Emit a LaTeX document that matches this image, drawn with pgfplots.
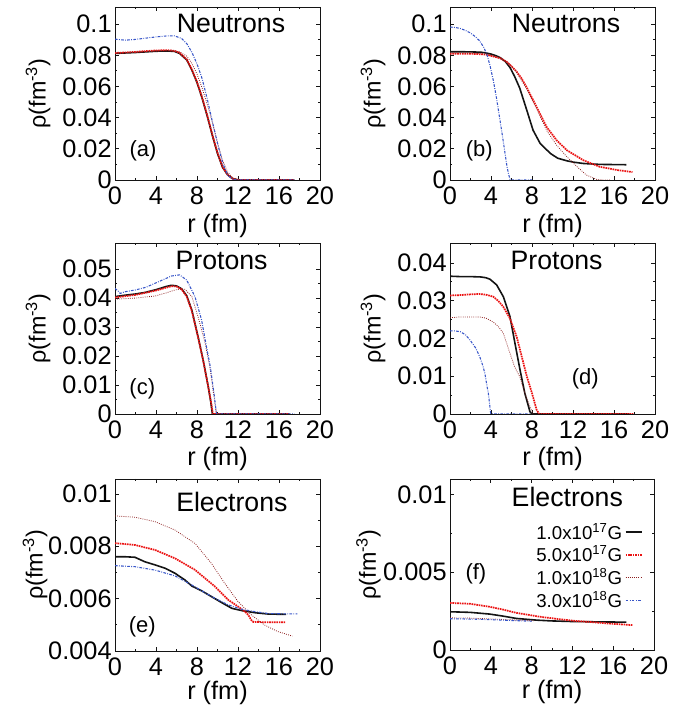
\documentclass[border=0pt]{standalone}
\usepackage{pgfplots}
\pgfplotsset{compat=1.18}
\usepackage{fontspec}
\setmainfont{Liberation Sans}
\definecolor{cblack}{RGB}{20,20,20}
\definecolor{cred}{RGB}{235,20,20}
\definecolor{cdred}{RGB}{140,30,30}
\definecolor{cblue}{RGB}{55,85,200}
\newcommand\tickf{\fontsize{19}{21}\selectfont}
\newcommand\titf{\fontsize{20}{22}\selectfont}
\newcommand\xlf{\fontsize{19}{21}\selectfont}
\newcommand\ylf{\fontsize{17.5}{20}\selectfont}
\newcommand\letf{\fontsize{16.5}{18}\selectfont}
\newcommand\legf{\fontsize{14}{16}\selectfont}
\pgfplotsset{
 panel/.style={
  scale only axis, width=153.75pt,
  xmin=0, xmax=20, xtick={0,4,8,12,16,20}, xticklabels={0,4,8,12,16,20},
  minor x tick num=1, minor y tick num=1,
  tick align=inside, major tick length=3pt, minor tick length=1.8pt,
  axis line style={line width=0.7pt, cblack},
  every tick/.style={line width=0.6pt, cblack},
  tick label style={font=\tickf},
  xticklabel style={yshift=-1.5pt},
  yticklabel style={xshift=1pt},
  xlabel={r (fm)}, ylabel={ρ(fm\textsuperscript{-3})},
  xlabel style={font=\xlf, at={(axis description cs:0.5,-0.265)}, anchor=center},
  ylabel style={font=\ylf, at={(axis description cs:-0.375,0.5)}, anchor=center},
  scaled y ticks=false,
 },
 s1/.style={cblack, line width=1.2pt},
 s2/.style={cred, line width=1.3pt, dash pattern=on 1.2pt off 0.6pt},
 s3/.style={cdred, line width=0.6pt, dash pattern=on 0.6pt off 1pt},
 s4/.style={cblue, line width=0.8pt, dash pattern=on 2pt off 1pt on 0.6pt off 1pt},
}
\begin{document}
\begin{tikzpicture}
\path[use as bounding box] (0pt,0pt) rectangle (515.25pt,529.5pt);
% (a)
\begin{axis}[panel, at={(86.25pt,394.5pt)}, anchor=south west, height=129.75pt,
  ymin=0, ymax=0.111, ytick={0,0.02,0.04,0.06,0.08,0.1}, yticklabels={0,0.02,0.04,0.06,0.08,0.1}]
\addplot[s1] coordinates {(0,0.0812)(1,0.0815)(2,0.0818)(3,0.0822)(4,0.0826)(5,0.0828)(5.8,0.0825)(6.3,0.0812)(7.0,0.0770)(7.5,0.0705)(8.0,0.0625)(8.5,0.0525)(9.0,0.0410)(9.5,0.0285)(10.0,0.0170)(10.5,0.0080)(11.0,0.0032)(11.5,0.0008)(12.0,0.0001)(12.5,0)(17.5,0)};
\addplot[s2] coordinates {(0,0.0815)(1,0.0818)(2,0.0822)(3,0.0827)(4,0.0831)(5,0.0833)(5.8,0.0829)(6.3,0.0816)(7.0,0.0774)(7.5,0.0710)(8.0,0.0630)(8.5,0.0530)(9.0,0.0415)(9.5,0.0290)(10.0,0.0175)(10.5,0.0083)(11.0,0.0033)(11.5,0.0008)(12.0,0.0001)(12.5,0)(17.5,0)};
\addplot[s3] coordinates {(0,0.0815)(2,0.0820)(4,0.0828)(5.5,0.0832)(6.3,0.0822)(7.0,0.0795)(7.5,0.0748)(8.0,0.0680)(8.5,0.0590)(9.0,0.0485)(9.5,0.0370)(10.0,0.0240)(10.5,0.0125)(11.0,0.0050)(11.5,0.0012)(12.0,0.0001)(12.5,0)(17.5,0)};
\addplot[s4] coordinates {(0,0.0904)(0.5,0.0900)(1,0.0897)(2,0.0902)(3,0.0910)(4,0.0918)(5,0.0924)(5.8,0.0925)(6.5,0.0908)(7.0,0.0875)(7.5,0.0820)(8.0,0.0745)(8.5,0.0650)(9.0,0.0520)(9.5,0.0375)(10.0,0.0235)(10.5,0.0110)(11.0,0.0030)(11.5,0.0003)(12,0)(17.5,0)};
\node[font=\titf] at (rel axis cs:0.566,0.907) {Neutrons};
\node[font=\letf] at (rel axis cs:0.137,0.168) {(a)};
\end{axis}
% (b)
\begin{axis}[panel, at={(337.5pt,394.5pt)}, anchor=south west, height=129.75pt,
  ymin=0, ymax=0.111, ytick={0,0.02,0.04,0.06,0.08,0.1}, yticklabels={0,0.02,0.04,0.06,0.08,0.1}]
\addplot[s1] coordinates {(0,0.0823)(1,0.0823)(2,0.0822)(3,0.0820)(3.5,0.0815)(4,0.0808)(4.5,0.0797)(4.9,0.0785)(5.4,0.0760)(5.85,0.0722)(6.3,0.0665)(6.8,0.0590)(7.5,0.0446)(8.1,0.0320)(8.8,0.0234)(9.8,0.0170)(10.5,0.0140)(11.4,0.0123)(12,0.0115)(13,0.0106)(14.6,0.0100)(17.2,0.0098)};
\addplot[s2] coordinates {(0,0.0810)(2,0.0810)(3.5,0.0805)(4.9,0.0781)(5.5,0.0760)(6.0,0.0730)(6.5,0.0695)(7.0,0.0650)(7.48,0.0594)(8.46,0.0467)(9.43,0.0340)(10.4,0.0255)(11.4,0.0191)(13,0.0127)(14.6,0.0085)(16.3,0.0064)(17.8,0.0051)};
\addplot[s3] coordinates {(0,0.0815)(2,0.0815)(3.5,0.0808)(4.9,0.0783)(5.8,0.0745)(6.5,0.0690)(7.48,0.0584)(8.46,0.0456)(9.43,0.0318)(10.4,0.0223)(11.4,0.0149)(12.4,0.0085)(13.3,0.0032)(14.3,0.0004)(15,0)(15.6,0)};
\addplot[s4] coordinates {(0,0.0981)(0.5,0.0979)(1,0.0972)(1.5,0.0960)(2,0.0943)(2.5,0.0918)(2.9,0.0892)(3.3,0.0850)(3.6,0.0805)(3.9,0.0735)(4.23,0.0637)(4.55,0.0520)(4.88,0.0382)(5.1,0.0290)(5.37,0.0170)(5.55,0.0090)(5.7,0.0042)(5.85,0.0005)(6.0,0)(8,0)};
\node[font=\titf] at (rel axis cs:0.566,0.907) {Neutrons};
\node[font=\letf] at (rel axis cs:0.143,0.168) {(b)};
\end{axis}
% (c)
\begin{axis}[panel, at={(86.25pt,219pt)}, anchor=south west, height=128.25pt,
  ymin=0, ymax=0.059, ytick={0,0.01,0.02,0.03,0.04,0.05}, yticklabels={0,0.01,0.02,0.03,0.04,0.05}]
\addplot[s1] coordinates {(0,0.0405)(1,0.0410)(2,0.0414)(3,0.0420)(4,0.0429)(5,0.0440)(5.5,0.0444)(6.0,0.0442)(6.5,0.0432)(7.0,0.0408)(7.5,0.0358)(8.1,0.0267)(8.6,0.0186)(9.1,0.0094)(9.35,0.0040)(9.5,0)(17,0)};
\addplot[s2] coordinates {(0,0.0402)(2,0.0411)(4,0.0426)(5.5,0.0441)(6.0,0.0440)(6.5,0.0430)(7.0,0.0405)(7.5,0.0355)(8.1,0.0265)(8.6,0.0185)(9.1,0.0093)(9.4,0.0035)(9.55,0)(17,0)};
\addplot[s3] coordinates {(0,0.0396)(2,0.0400)(3.9,0.0407)(5,0.0418)(5.85,0.0428)(6.5,0.0431)(6.83,0.0430)(7.5,0.0405)(8.1,0.0336)(8.8,0.0244)(9.3,0.0152)(9.7,0.0048)(9.9,0)(17,0)};
\addplot[s4] coordinates {(0,0.0433)(0.3,0.0425)(0.5,0.0416)(1,0.0422)(2,0.0428)(3,0.0437)(3.9,0.0451)(5,0.0468)(5.5,0.0476)(6.3,0.0480)(7.0,0.0462)(7.8,0.0405)(8.45,0.0324)(8.8,0.0255)(9.3,0.0163)(9.7,0.0060)(9.9,0)(17.5,0)};
\node[font=\titf] at (rel axis cs:0.52,0.90) {Protons};
\node[font=\letf] at (rel axis cs:0.133,0.146) {(c)};
\end{axis}
% (d)
\begin{axis}[panel, at={(337.5pt,219pt)}, anchor=south west, height=128.25pt,
  ymin=0, ymax=0.0453, ytick={0,0.01,0.02,0.03,0.04}, yticklabels={0,0.01,0.02,0.03,0.04}]
\addplot[s1] coordinates {(0,0.0365)(1,0.0364)(2,0.0364)(3,0.0363)(3.5,0.0361)(3.9,0.0357)(4.55,0.0342)(5.2,0.0311)(5.85,0.0258)(6.34,0.0187)(6.83,0.0117)(7.3,0.0055)(7.8,0.0006)(8.0,0)(17.5,0)};
\addplot[s2] coordinates {(0,0.0314)(1,0.0315)(2,0.0317)(2.9,0.0318)(3.5,0.0316)(4.2,0.0311)(4.7,0.0300)(5.2,0.0284)(5.85,0.0253)(6.5,0.0205)(7.0,0.0152)(7.5,0.0099)(8.0,0.0055)(8.45,0.0011)(8.7,0)(17.9,0)};
\addplot[s3] coordinates {(0,0.0255)(1,0.0257)(2.9,0.0257)(3.5,0.0254)(4.2,0.0244)(4.7,0.0232)(5.2,0.0214)(5.85,0.0161)(6.3,0.0125)(6.8,0.0099)(7.3,0.0055)(7.8,0.0020)(8.1,0)(17,0)};
\addplot[s4] coordinates {(0,0.0220)(0.5,0.0220)(1,0.0218)(1.5,0.0210)(1.95,0.0196)(2.5,0.0175)(2.9,0.0152)(3.2,0.0128)(3.4,0.0108)(3.6,0.0075)(3.74,0.0055)(3.87,0.0025)(3.97,0.0002)(4.05,0)(7.8,0)};
\node[font=\titf] at (rel axis cs:0.52,0.90) {Protons};
\node[font=\letf] at (rel axis cs:0.66,0.205) {(d)};
\end{axis}
% (e)
\begin{axis}[panel, at={(86.25pt,41.25pt)}, anchor=south west, height=129pt,
  ymin=0.004, ymax=0.01057, ytick={0.004,0.006,0.008,0.01}, yticklabels={0.004,0.006,0.008,0.01},
  ylabel style={at={(axis description cs:-0.39,0.5)}},
  xlabel style={at={(axis description cs:0.5,-0.245)}}]
\addplot[s1] coordinates {(0,0.00760)(1,0.00760)(1.95,0.00758)(2.9,0.00741)(3.9,0.00729)(4.9,0.00716)(5.85,0.00697)(6.83,0.00671)(7.5,0.00648)(8.45,0.00630)(9.4,0.00608)(10.4,0.00585)(11.4,0.00563)(12.4,0.00554)(13.7,0.00546)(15,0.00541)(16.7,0.00540)};
\addplot[s2] coordinates {(0,0.00812)(1.95,0.00805)(3.9,0.00786)(5.85,0.00754)(7.8,0.00710)(9.76,0.00646)(11.06,0.00595)(12.0,0.00570)(12.7,0.00550)(13.0,0.00538)(13.3,0.00518)(13.5,0.00511)(14.6,0.00510)(16.6,0.00510)};
\addplot[s3] coordinates {(0,0.00916)(1.95,0.00911)(3.9,0.00894)(5.85,0.00862)(7.8,0.00811)(9.4,0.00735)(10.7,0.00659)(12.0,0.00589)(13.3,0.00538)(14.6,0.00499)(15.9,0.00474)(17.3,0.00457)};
\addplot[s4] coordinates {(0,0.00726)(1.95,0.00722)(3.9,0.00709)(5.85,0.00687)(7.5,0.00652)(8.45,0.00630)(9.76,0.00601)(11.06,0.00576)(12.4,0.00559)(13.7,0.00550)(15.0,0.00543)(16.3,0.00542)(17.8,0.00542)};
\node[font=\titf] at (rel axis cs:0.57,0.866) {Electrons};
\node[font=\letf] at (rel axis cs:0.133,0.14) {(e)};
\end{axis}
% (f)
\begin{axis}[panel, at={(337.5pt,42pt)}, anchor=south west, height=128.25pt, width=153pt,
  ymin=0, ymax=0.011, ytick={0,0.005,0.01}, yticklabels={0,0.005,0.01},
  ylabel style={at={(axis description cs:-0.40,0.5)}},
  xlabel style={at={(axis description cs:0.5,-0.245)}},
  legend plot pos=right, legend cell align=right,
  legend image code/.code={\draw[#1] (0pt,0pt) -- (12pt,0pt);},
  legend style={at={(0.945,0.49)}, anchor=east, draw=none, fill=none, font=\legf, row sep=-0.5pt, inner sep=0pt}]
\addplot[s1] coordinates {(0,0.00246)(2,0.00242)(3.9,0.00231)(5.2,0.00218)(6.5,0.00203)(8.5,0.00192)(10,0.00187)(12.1,0.00183)(14.5,0.00181)(17.3,0.00179)};
\addlegendentry{1.0x10\textsuperscript{17}G}
\addplot[s2] coordinates {(0,0.00303)(2,0.00297)(3.9,0.00278)(5.2,0.00260)(6.5,0.00239)(8.8,0.00214)(10.5,0.00200)(12.1,0.00188)(14,0.00179)(15.4,0.00171)(17.9,0.00160)};
\addlegendentry{5.0x10\textsuperscript{17}G}
\addplot[s3] coordinates {(0,0.00207)(2,0.00205)(4,0.00200)(6,0.00194)(8.2,0.00188)};
\addlegendentry{1.0x10\textsuperscript{18}G}
\addplot[s4] coordinates {(0,0.00201)(2,0.00199)(4,0.00195)(6,0.00190)(8,0.00185)};
\addlegendentry{3.0x10\textsuperscript{18}G}
\node[font=\titf] at (rel axis cs:0.575,0.895) {Electrons};
\node[font=\letf] at (rel axis cs:0.127,0.444) {(f)};
\end{axis}
\end{tikzpicture}
\end{document}
